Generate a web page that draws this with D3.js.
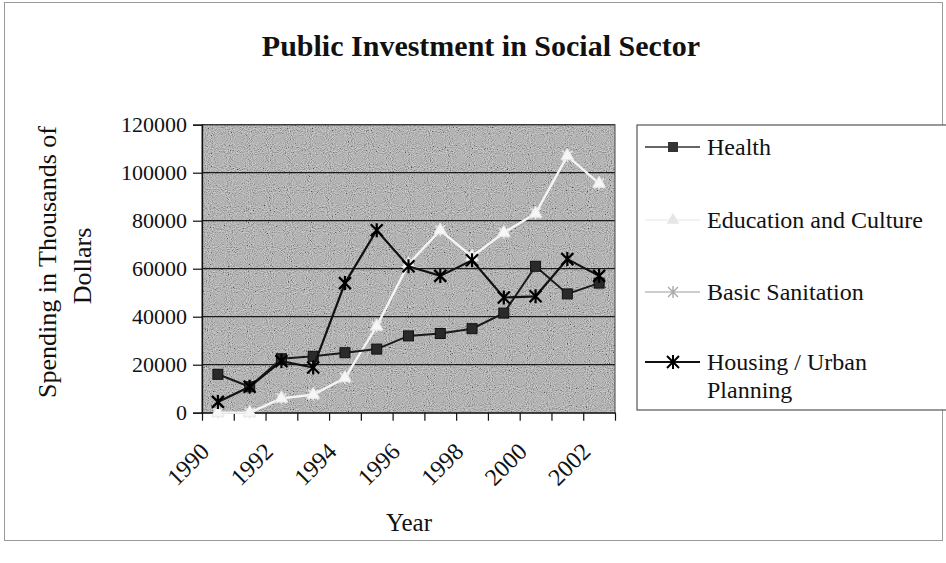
<!DOCTYPE html>
<html>
<head>
<meta charset="utf-8">
<script src="https://cdn.jsdelivr.net/npm/d3@7"></script>
<style>
  html, body { margin: 0; padding: 0; background: #ffffff; }
  svg { display: block; }
  text { font-family: "Liberation Serif", "Times New Roman", serif; fill: #111; }
</style>
</head>
<body>
<svg id="chart" width="946" height="563"></svg>
<script>
// ---- data ----
const years = [1990, 1991, 1992, 1993, 1994, 1995, 1996, 1997, 1998, 1999, 2000, 2001, 2002];
const health     = [16000, 10800, 22500, 23500, 25000, 26500, 32000, 33000, 35000, 41500, 61000, 49500, 54000];
const education  = [0, 0, 6000, 7500, 14500, 36000, 62000, 76000, 65000, 75000, 83000, 107000, 95500];
const sanitation = [0, 0, 6000, 7500, 14500, 36000, 62000, 76000, 65000, 75000, 83000, 107000, 95500];
const housing    = [4500, 10800, 21500, 18800, 54000, 76000, 61000, 57000, 63500, 48000, 48500, 64000, 57000];
const yTicks = [0, 20000, 40000, 60000, 80000, 100000, 120000];
const xTickLabels = ["1990", "1992", "1994", "1996", "1998", "2000", "2002"];
const seriesNames = ["Health", "Education and Culture", "Basic Sanitation", "Housing / Urban Planning"];

// ---- layout ----
const svg = d3.select("#chart");
const plot = { left: 202, right: 615, top: 124.7, bottom: 412.7 };

const xi = d3.scaleLinear().domain([0, years.length]).range([plot.left, plot.right]);
const xc = (i) => xi(i + 0.5);
const y = d3.scaleLinear().domain([0, 120000]).range([plot.bottom, plot.top]);

// noise filter for the scanned gray look
const defs = svg.append("defs");
const f = defs.append("filter").attr("id", "noise").attr("x", 0).attr("y", 0).attr("width", "100%").attr("height", "100%");
f.append("feTurbulence").attr("type", "fractalNoise").attr("baseFrequency", 0.95).attr("numOctaves", 1).attr("seed", 7).attr("result", "t");
f.append("feColorMatrix").attr("type", "matrix")
  .attr("values", "0.33 0.33 0.33 0 0  0.33 0.33 0.33 0 0  0.33 0.33 0.33 0 0  0 0 0 0 1").attr("result", "g");
const ct = f.append("feComponentTransfer");
["R", "G", "B"].forEach(c => ct.append("feFunc" + c).attr("type", "linear").attr("slope", 3.2).attr("intercept", -1.0));

// outer chart border
svg.append("rect").attr("x", 4.5).attr("y", 2.5).attr("width", 938).attr("height", 538)
  .attr("fill", "none").attr("stroke", "#9a9a9a").attr("stroke-width", 1);

// title
svg.append("text").attr("x", 481).attr("y", 56).attr("text-anchor", "middle")
  .attr("font-size", 30).attr("font-weight", "bold").text("Public Investment in Social Sector");

// plot background
svg.append("rect").attr("x", plot.left).attr("y", plot.top)
  .attr("width", plot.right - plot.left).attr("height", plot.bottom - plot.top)
  .attr("fill", "#9e9e9e");
svg.append("rect").attr("x", plot.left).attr("y", plot.top)
  .attr("width", plot.right - plot.left).attr("height", plot.bottom - plot.top)
  .attr("filter", "url(#noise)").attr("opacity", 0.5);

// gridlines
svg.append("g").selectAll("line").data(yTicks.filter(v => v > 0)).join("line")
  .attr("x1", plot.left).attr("x2", plot.right)
  .attr("y1", d => y(d)).attr("y2", d => y(d))
  .attr("stroke", "#1a1a1a").attr("stroke-width", 1.2);

// plot border
svg.append("rect").attr("x", plot.left).attr("y", plot.top)
  .attr("width", plot.right - plot.left).attr("height", plot.bottom - plot.top)
  .attr("fill", "none").attr("stroke", "#444").attr("stroke-width", 1);

// y axis
const yAxis = svg.append("g").attr("transform", `translate(${plot.left},0)`)
  .call(d3.axisLeft(y).tickValues(yTicks).tickSize(9).tickPadding(6).tickFormat(d3.format("d")));
yAxis.select(".domain").attr("stroke", "#111").attr("stroke-width", 1.3);
yAxis.selectAll(".tick line").attr("stroke", "#111").attr("stroke-width", 1.2);
yAxis.selectAll(".tick text").attr("font-size", 22).attr("font-family", "Liberation Serif, serif").attr("fill", "#111");

// x axis (ticks at category boundaries)
const xAxis = svg.append("g").attr("transform", `translate(0,${plot.bottom})`)
  .call(d3.axisBottom(xi).tickValues(d3.range(years.length + 1)).tickSize(8).tickSizeOuter(0).tickFormat(""));
xAxis.select(".domain").attr("stroke", "#111").attr("stroke-width", 1.3);
xAxis.selectAll(".tick line").attr("stroke", "#111").attr("stroke-width", 1.2);

// x tick labels, rotated
svg.append("g").selectAll("text").data(xTickLabels).join("text")
  .attr("transform", d => {
    const i = years.indexOf(+d);
    return `translate(${xc(i) - 13},${447}) rotate(-45)`;
  })
  .attr("text-anchor", "end").attr("dy", "0.35em").attr("font-size", 24).text(d => d);

// axis titles
svg.append("text").attr("x", 409).attr("y", 531).attr("text-anchor", "middle").attr("font-size", 25).text("Year");
svg.append("text").attr("transform", "translate(56,262) rotate(-90)").attr("text-anchor", "middle")
  .attr("font-size", 26).text("Spending in Thousands of");
svg.append("text").attr("transform", "translate(91,266) rotate(-90)").attr("text-anchor", "middle")
  .attr("font-size", 26).text("Dollars");

// ---- series ----
const line = d3.line().x((d, i) => xc(i)).y(d => y(d));
const starPath = "M-6,-6L6,6M-6,6L6,-6M0,-7L0,7";
const xPath = "M-5,-5L5,5M-5,5L5,-5M0,-6L0,6";
const triPath = d3.symbol().type(d3.symbolTriangle).size(70)();

const gS = svg.append("g");
// Basic sanitation (light gray, x markers)
gS.append("path").datum(sanitation).attr("d", line).attr("fill", "none").attr("stroke", "#dcdcdc").attr("stroke-width", 2);
gS.selectAll(".sm").data(sanitation).join("path").attr("class", "sm")
  .attr("transform", (d, i) => `translate(${xc(i)},${y(d)})`).attr("d", xPath)
  .attr("stroke", "#e4e4e4").attr("stroke-width", 1.6).attr("fill", "none");
// Education and culture (white, triangles)
gS.append("path").datum(education).attr("d", line).attr("fill", "none").attr("stroke", "#f4f4f4").attr("stroke-width", 2.2);
gS.selectAll(".em").data(education).join("path").attr("class", "em")
  .attr("transform", (d, i) => `translate(${xc(i)},${y(d)})`).attr("d", triPath)
  .attr("fill", "#f6f6f6").attr("stroke", "#e8e8e8");

// Health (black, squares)
gS.append("path").datum(health).attr("d", line).attr("fill", "none").attr("stroke", "#1a1a1a").attr("stroke-width", 2);
gS.selectAll(".hm").data(health).join("rect").attr("class", "hm")
  .attr("x", (d, i) => xc(i) - 5).attr("y", d => y(d) - 5).attr("width", 10).attr("height", 10)
  .attr("fill", "#2a2a2a").attr("stroke", "#111");

// Housing (black, stars)
gS.append("path").datum(housing).attr("d", line).attr("fill", "none").attr("stroke", "#111").attr("stroke-width", 2.2);
gS.selectAll(".um").data(housing).join("path").attr("class", "um")
  .attr("transform", (d, i) => `translate(${xc(i)},${y(d)})`).attr("d", starPath)
  .attr("stroke", "#000").attr("stroke-width", 2.2).attr("fill", "none");

// ---- legend ----
const lg = svg.append("g");
lg.append("rect").attr("x", 637).attr("y", 125).attr("width", 312).attr("height", 285)
  .attr("fill", "#fff").attr("stroke", "#555").attr("stroke-width", 1.2);
const legendRows = [
  { name: seriesNames[0], lines: ["Health"], cy: 147, stroke: "#333", marker: "square" },
  { name: seriesNames[1], lines: ["Education and Culture"], cy: 220, stroke: "#eeeeee", marker: "tri" },
  { name: seriesNames[2], lines: ["Basic Sanitation"], cy: 292, stroke: "#bdbdbd", marker: "x" },
  { name: seriesNames[3], lines: ["Housing / Urban", "Planning"], cy: 362, stroke: "#111", marker: "star" }
];
legendRows.forEach(r => {
  lg.append("line").attr("x1", 645).attr("x2", 700).attr("y1", r.cy).attr("y2", r.cy)
    .attr("stroke", r.stroke).attr("stroke-width", r.marker === "star" ? 2 : 1.5);
  if (r.marker === "square") {
    lg.append("rect").attr("x", 668).attr("y", r.cy - 5).attr("width", 10).attr("height", 10).attr("fill", "#333");
  } else if (r.marker === "tri") {
    lg.append("path").attr("transform", `translate(673,${r.cy})`).attr("d", triPath).attr("fill", "#e6e6e6");
  } else if (r.marker === "x") {
    lg.append("path").attr("transform", `translate(673,${r.cy})`).attr("d", xPath).attr("stroke", "#aaa").attr("stroke-width", 1.4);
  } else {
    lg.append("path").attr("transform", `translate(673,${r.cy})`).attr("d", starPath).attr("stroke", "#000").attr("stroke-width", 2);
  }
  r.lines.forEach((t, k) => {
    lg.append("text").attr("x", 707).attr("y", r.cy + 8 + k * 28).attr("font-size", 24).text(t);
  });
});
</script>
</body>
</html>
